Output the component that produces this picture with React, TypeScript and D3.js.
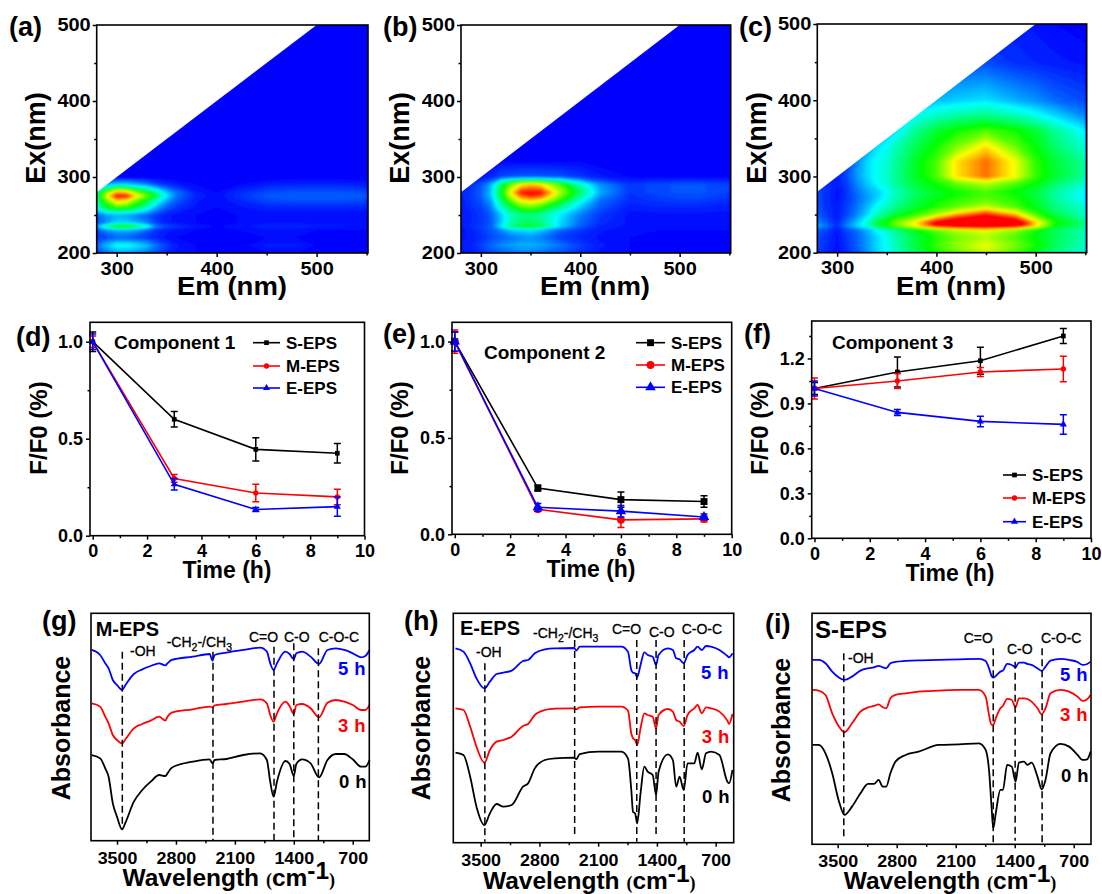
import React, { useEffect, useRef } from 'react';
import * as d3 from 'd3';

// excitation-emission maps, values in percent of colour range
const emGrid = [280, 290, 300, 310, 320, 330, 340, 350, 360, 380, 400, 420, 450, 480, 500, 520, 550];
const exGrid = [200, 210, 220, 230, 235, 240, 250, 260, 270, 275, 280, 290, 300, 320, 340, 360, 380, 400, 450, 500];
const maskEm = [280, 500, 280];
const maskEx = [280, 500, 500];

const eemA = [
  [8, 12, 16, 16, 14, 12, 8, 4, 2, 1, 0, 0, 1, 1, 0, 0, 0],
  [12, 20, 27, 27, 24, 20, 12, 7, 3, 1, 0, 0, 3, 3, 1, 0, 0],
  [6, 8, 10, 10, 8, 6, 4, 2, 1, 0, 0, 0, 1, 1, 0, 0, 0],
  [8, 14, 18, 18, 15, 10, 5, 3, 2, 1, 0, 1, 2, 2, 1, 1, 1],
  [18, 38, 52, 54, 44, 30, 14, 8, 6, 3, 1, 2, 4, 4, 3, 3, 2],
  [8, 15, 22, 22, 18, 13, 6, 3, 2, 1, 0, 1, 2, 2, 2, 2, 1],
  [10, 16, 18, 16, 13, 10, 6, 3, 2, 1, 0, 1, 1, 1, 1, 1, 1],
  [30, 48, 56, 54, 45, 32, 18, 10, 6, 2, 1, 2, 4, 4, 4, 4, 4],
  [35, 62, 85, 80, 62, 48, 32, 18, 10, 3, 1, 4, 8, 9, 9, 9, 8],
  [40, 75, 100, 100, 78, 62, 45, 25, 12, 4, 1, 5, 9, 10, 10, 10, 9],
  [35, 62, 85, 80, 62, 50, 35, 20, 12, 3, 1, 4, 8, 9, 9, 9, 8],
  [10, 18, 22, 22, 18, 14, 8, 5, 3, 1, 0, 1, 3, 4, 4, 4, 3],
  [0, 0, 0, 0, 0, 0, 0, 0, 0, 0, 0, 0, 0, 0, 0, 0, 0],
  [0, 0, 0, 0, 0, 0, 0, 0, 0, 0, 0, 0, 0, 0, 0, 0, 0],
  [0, 0, 0, 0, 0, 0, 0, 0, 0, 0, 0, 0, 0, 0, 0, 0, 0],
  [0, 0, 0, 0, 0, 0, 0, 0, 0, 0, 0, 0, 0, 0, 0, 0, 0],
  [0, 0, 0, 0, 0, 0, 0, 0, 0, 0, 0, 0, 0, 0, 0, 0, 0],
  [0, 0, 0, 0, 0, 0, 0, 0, 0, 0, 0, 0, 0, 0, 0, 0, 0],
  [0, 0, 0, 0, 0, 0, 0, 0, 0, 0, 0, 0, 0, 0, 0, 0, 0],
  [0, 0, 0, 0, 0, 0, 0, 0, 0, 0, 0, 0, 0, 0, 0, 0, 0],
];

const eemB = [
  [2, 3, 5, 8, 10, 12, 13, 13, 12, 9, 5, 2, 1, 0, 0, 0, 0],
  [3, 4, 7, 11, 14, 16, 18, 18, 17, 12, 7, 3, 1, 0, 0, 0, 0],
  [2, 3, 5, 8, 10, 12, 14, 15, 13, 7, 4, 2, 1, 0, 0, 0, 0],
  [2, 3, 6, 9, 14, 20, 22, 23, 20, 10, 6, 3, 1, 1, 1, 1, 1],
  [3, 5, 7, 10, 24, 38, 46, 48, 43, 22, 10, 4, 2, 2, 2, 2, 2],
  [3, 4, 6, 9, 20, 33, 40, 42, 38, 22, 11, 5, 2, 2, 2, 2, 2],
  [3, 4, 6, 10, 20, 32, 37, 38, 36, 24, 13, 6, 2, 2, 2, 2, 2],
  [3, 5, 7, 13, 30, 44, 56, 60, 54, 36, 20, 9, 3, 4, 4, 4, 3],
  [3, 6, 9, 17, 40, 62, 78, 82, 78, 55, 30, 12, 5, 6, 7, 7, 5],
  [4, 6, 10, 20, 44, 70, 90, 98, 94, 62, 36, 15, 5, 7, 8, 8, 6],
  [4, 6, 10, 20, 46, 76, 98, 100, 100, 68, 42, 18, 6, 8, 9, 9, 7],
  [3, 5, 9, 18, 42, 62, 76, 82, 78, 58, 32, 15, 6, 8, 9, 9, 7],
  [0, 1, 2, 4, 8, 9, 10, 10, 10, 9, 6, 3, 1, 1, 1, 1, 1],
  [0, 0, 0, 1, 1, 1, 1, 1, 1, 1, 1, 0, 0, 0, 0, 0, 0],
  [0, 0, 0, 0, 0, 0, 0, 0, 0, 0, 0, 0, 0, 0, 0, 0, 0],
  [0, 0, 0, 0, 0, 0, 0, 0, 0, 0, 0, 0, 0, 0, 0, 0, 0],
  [0, 0, 0, 0, 0, 0, 0, 0, 0, 0, 0, 0, 0, 0, 0, 0, 0],
  [0, 0, 0, 0, 0, 0, 0, 0, 0, 0, 0, 0, 0, 0, 0, 0, 0],
  [0, 0, 0, 0, 0, 0, 0, 0, 0, 0, 0, 0, 0, 0, 0, 0, 0],
  [0, 0, 0, 0, 0, 0, 0, 0, 0, 0, 0, 0, 0, 0, 0, 0, 0],
];

const eemC = [
  [7, 4, 1, 5, 9, 15, 22, 26, 32, 42, 52, 60, 70, 58, 48, 38, 30],
  [8, 5, 2, 6, 10, 16, 22, 27, 34, 46, 56, 65, 74, 62, 52, 42, 32],
  [8, 5, 2, 6, 10, 16, 22, 27, 34, 45, 54, 62, 68, 58, 50, 42, 33],
  [10, 7, 3, 8, 12, 18, 26, 32, 38, 50, 60, 68, 74, 64, 52, 42, 34],
  [18, 12, 5, 14, 22, 30, 44, 52, 60, 76, 100, 115, 120, 110, 78, 50, 38],
  [14, 9, 4, 12, 20, 30, 44, 52, 62, 78, 105, 120, 125, 115, 80, 52, 38],
  [10, 6, 3, 8, 14, 22, 32, 40, 46, 56, 68, 84, 100, 82, 58, 44, 32],
  [9, 5, 3, 7, 12, 19, 27, 32, 38, 46, 54, 60, 70, 58, 48, 38, 30],
  [8, 5, 2, 6, 11, 16, 22, 28, 34, 44, 50, 55, 60, 54, 46, 36, 26],
  [8, 5, 2, 6, 11, 16, 21, 27, 33, 42, 48, 52, 58, 52, 45, 35, 25],
  [8, 5, 2, 6, 12, 17, 21, 26, 33, 42, 48, 52, 58, 50, 45, 35, 26],
  [7, 5, 3, 7, 14, 20, 26, 30, 36, 46, 52, 60, 68, 58, 50, 40, 30],
  [3, 4, 3, 8, 16, 22, 27, 31, 37, 48, 58, 78, 90, 74, 56, 46, 36],
  [3, 3, 3, 8, 14, 22, 27, 30, 36, 48, 58, 78, 90, 74, 55, 45, 36],
  [3, 3, 3, 6, 10, 14, 22, 27, 33, 43, 52, 62, 78, 60, 50, 40, 30],
  [3, 3, 3, 5, 8, 12, 14, 18, 24, 37, 46, 52, 58, 52, 46, 36, 25],
  [3, 3, 3, 4, 6, 8, 10, 13, 17, 27, 32, 35, 38, 33, 28, 22, 14],
  [3, 3, 3, 3, 4, 6, 8, 10, 12, 15, 19, 21, 23, 18, 15, 11, 8],
  [3, 3, 3, 3, 3, 3, 3, 4, 5, 6, 7, 8, 8, 5, 4, 3, 2],
  [3, 3, 3, 3, 3, 3, 3, 3, 3, 3, 3, 3, 3, 3, 2, 1, 0],
];

// quenching kinetics
const times = [0, 3, 6, 9];
const seriesNames = ['S-EPS', 'M-EPS', 'E-EPS'];

const compS1 = [1, 0.6, 0.445, 0.425];
const compS1Err = [0.05, 0.04, 0.06, 0.05];
const compM1 = [1, 0.295, 0.22, 0.2];
const compM1Err = [0.03, 0.02, 0.045, 0.04];
const compE1 = [1, 0.265, 0.135, 0.15];
const compE1Err = [0.04, 0.03, 0.01, 0.05];

const compS2 = [1, 0.24, 0.18, 0.17];
const compS2Err = [0.05, 0.015, 0.04, 0.03];
const compM2 = [1, 0.13, 0.075, 0.08];
const compM2Err = [0.06, 0.01, 0.04, 0.015];
const compE2 = [1, 0.14, 0.12, 0.09];
const compE2Err = [0.05, 0.02, 0.03, 0.015];

const compS3 = [1, 1.11, 1.185, 1.35];
const compS3Err = [0.04, 0.1, 0.09, 0.05];
const compM3 = [1, 1.05, 1.11, 1.13];
const compM3Err = [0.07, 0.05, 0.03, 0.085];
const compE3 = [1, 0.84, 0.78, 0.76];
const compE3Err = [0.05, 0.02, 0.035, 0.065];

// FTIR spectra, absorbance in arbitrary units
const wnG = [3800, 3700, 3640, 3600, 3550, 3500, 3440, 3400, 3300, 3200, 3100, 3000, 2925, 2900, 2850, 2600, 2400, 2365, 2340, 2200, 2000, 1800, 1720, 1680, 1640, 1600, 1500, 1450, 1400, 1370, 1300, 1200, 1100, 1000, 900, 800, 700, 600, 550, 500];
const g0h = [257, 247, 217, 192, 112, 72, 34, 54, 117, 152, 177, 197, 194, 202, 219, 237, 244, 232, 242, 245, 257, 262, 242, 177, 132, 177, 239, 230, 194, 230, 244, 232, 190, 242, 260, 260, 244, 222, 222, 242];
const g3h = [412, 402, 372, 352, 317, 302, 292, 304, 337, 350, 360, 372, 360, 372, 384, 394, 402, 400, 406, 410, 417, 424, 412, 377, 357, 382, 417, 404, 380, 407, 410, 397, 370, 414, 422, 417, 407, 392, 392, 407];
const g5h = [572, 557, 532, 517, 482, 467, 452, 467, 500, 514, 524, 532, 526, 532, 542, 552, 560, 540, 557, 564, 572, 579, 567, 532, 512, 532, 567, 560, 544, 562, 567, 552, 530, 572, 577, 572, 562, 550, 554, 572];
const dashWnG = [3437, 2360, 1635, 1400, 1108];
const dashTopG = [567, 567, 582, 592, 577];
const dashBottomG = [32, 0, 0, 0, 0];

const wnH = [3800, 3705, 3625, 3550, 3455, 3390, 3310, 3230, 3130, 2995, 2935, 2855, 2735, 2615, 2385, 2360, 2320, 2100, 1825, 1745, 1705, 1685, 1660, 1635, 1595, 1550, 1510, 1450, 1410, 1380, 1270, 1210, 1170, 1130, 1080, 1035, 955, 915, 865, 815, 755, 655, 560, 540, 500];
const h0h = [270, 263, 198, 108, 53, 88, 116, 108, 113, 168, 178, 223, 248, 253, 255, 250, 266, 273, 273, 253, 158, 93, 88, 58, 148, 228, 213, 203, 143, 213, 265, 248, 168, 198, 158, 238, 238, 270, 220, 268, 273, 263, 183, 178, 218];
const h3h = [403, 398, 348, 288, 240, 278, 303, 308, 318, 350, 356, 383, 398, 402, 403, 400, 406, 408, 408, 396, 328, 313, 308, 293, 343, 388, 383, 378, 343, 383, 401, 393, 368, 363, 350, 383, 403, 413, 388, 406, 403, 393, 366, 356, 386];
const h5h = [583, 573, 538, 493, 463, 483, 506, 510, 516, 545, 548, 568, 580, 583, 584, 576, 588, 588, 588, 573, 518, 510, 508, 496, 533, 571, 563, 558, 533, 563, 583, 578, 553, 550, 538, 563, 578, 588, 578, 590, 588, 578, 560, 556, 568];
const dashWnH = [3450, 2380, 1640, 1410, 1075];
const dashTopH = [538, 608, 608, 608, 608];
const dashBottomH = [3, 18, 3, 18, 3];

const wnI = [3800, 3725, 3645, 3565, 3490, 3420, 3330, 3230, 3140, 3070, 3015, 2965, 2925, 2875, 2815, 2695, 2540, 2300, 2060, 1825, 1745, 1705, 1675, 1655, 1625, 1570, 1540, 1490, 1435, 1390, 1350, 1290, 1250, 1200, 1130, 1080, 1035, 975, 855, 755, 655, 595, 540, 500];
const i0h = [298, 298, 273, 213, 133, 88, 113, 153, 181, 181, 193, 173, 173, 213, 248, 268, 278, 298, 300, 303, 283, 223, 113, 48, 93, 163, 163, 238, 233, 188, 245, 248, 238, 245, 203, 165, 193, 273, 301, 293, 268, 253, 255, 278];
const i3h = [463, 461, 448, 393, 355, 336, 363, 398, 411, 415, 420, 411, 408, 438, 448, 453, 458, 461, 463, 463, 443, 388, 358, 358, 378, 408, 415, 436, 433, 411, 438, 438, 436, 428, 408, 390, 408, 453, 463, 458, 443, 430, 435, 448];
const i5h = [553, 553, 543, 518, 501, 493, 503, 521, 528, 531, 535, 531, 528, 543, 547, 550, 552, 553, 555, 556, 550, 528, 505, 500, 505, 518, 521, 541, 538, 531, 545, 545, 541, 538, 528, 520, 533, 551, 556, 553, 547, 538, 541, 548];
const dashWnI = [3428, 1655, 1395, 1075];
const dashTopI = [573, 588, 548, 588];
const dashBottomI = [23, 0, 11, 0];

const FONT = '"Liberation Sans", Arial, sans-serif';
const SERIES_COLORS = ['#000000', '#ff0000', '#0000ff'];

const rainbow = d3
  .scaleLinear<string>()
  .domain([0, 25, 50, 75, 100])
  .range(['#0000ff', '#00ffff', '#00ff00', '#ffff00', '#ff0000'])
  .clamp(true);

const addText = (g: any, x: number, y: number, str: string, size: number, opts: any = {}) =>
  g
    .append('text')
    .attr('x', x)
    .attr('y', y)
    .attr('font-family', FONT)
    .attr('font-weight', opts.weight || 'bold')
    .attr('font-size', size)
    .attr('fill', opts.fill || '#000')
    .attr('text-anchor', opts.anchor || 'start')
    .text(str);

const addYLabel = (g: any, x: number, y: number, str: string, size: number) =>
  addText(g, 0, 0, str, size, { anchor: 'middle' }).attr('transform', `translate(${x},${y}) rotate(-90)`);

// draws ticks with d3 axes; minor ones have no label
// the source picture is a bit wider than tall, hence the stretch on the labels
const drawAxes = (svg: any, box: any, x: any, y: any, xt: any, yt: any, fmtX: any, fmtY: any) => {
  const styleAxis = (sel: any, size: number, stretch: number, isY: boolean) => {
    sel.select('.domain').remove();
    sel.selectAll('line').attr('stroke', '#000').attr('stroke-width', 1.5);
    sel
      .selectAll('text')
      .attr('font-family', FONT)
      .attr('font-weight', 'bold')
      .attr('font-size', size)
      .attr('fill', '#000')
      .attr('transform', function (this: any) {
        if (!isY) return `scale(${stretch},1)`;
        const tx = +this.getAttribute('x');
        return `translate(${tx},0) scale(${stretch},1) translate(${-tx},0)`;
      });
  };
  svg
    .append('g')
    .attr('transform', `translate(0,${box.bottom})`)
    .call(d3.axisBottom(x).tickValues(xt.major).tickFormat(fmtX).tickSize(4).tickSizeOuter(0).tickPadding(xt.pad))
    .call((s: any) => styleAxis(s, xt.size, xt.stretch || 1, false));
  svg
    .append('g')
    .attr('transform', `translate(0,${box.bottom})`)
    .call(d3.axisBottom(x).tickValues(xt.minor).tickFormat(() => '').tickSize(2.5).tickSizeOuter(0))
    .call((s: any) => styleAxis(s, xt.size, 1, false));
  if (yt) {
    svg
      .append('g')
      .attr('transform', `translate(${box.left},0)`)
      .call(d3.axisLeft(y).tickValues(yt.major).tickFormat(fmtY).tickSize(4).tickSizeOuter(0).tickPadding(yt.pad))
      .call((s: any) => styleAxis(s, yt.size, yt.stretch || 1, true));
    svg
      .append('g')
      .attr('transform', `translate(${box.left},0)`)
      .call(d3.axisLeft(y).tickValues(yt.minor).tickFormat(() => '').tickSize(2.5).tickSizeOuter(0))
      .call((s: any) => styleAxis(s, yt.size, 1, true));
  }
};

const drawFrame = (svg: any, box: any) =>
  svg
    .append('rect')
    .attr('x', box.left)
    .attr('y', box.top)
    .attr('width', box.right - box.left)
    .attr('height', box.bottom - box.top)
    .attr('fill', 'none')
    .attr('stroke', '#000')
    .attr('stroke-width', 1.6);

const drawEEM = (svg: any, id: string, grid: number[][], box: any, o: any) => {
  const x = d3.scaleLinear().domain([280, 550]).range([box.left, box.left + 270 * (box.right - box.left) / 271.4]);
  const y = d3.scaleLinear().domain([200, 500]).range([box.bottom, box.top]);
  const xIdx = d3.scaleLinear().domain(d3.range(emGrid.length)).range(emGrid).clamp(true);
  const yIdx = d3.scaleLinear().domain(d3.range(exGrid.length)).range(exGrid).clamp(true);

  const clip = `clip-${id}`;
  svg
    .append('clipPath')
    .attr('id', clip)
    .append('rect')
    .attr('x', box.left)
    .attr('y', box.top)
    .attr('width', box.right - box.left)
    .attr('height', box.bottom - box.top);

  const root = svg.append('g').attr('clip-path', `url(#${clip})`);
  root
    .append('rect')
    .attr('x', box.left)
    .attr('y', box.top)
    .attr('width', box.right - box.left)
    .attr('height', box.bottom - box.top)
    .attr('fill', rainbow(0));

  const plot = root.append('g').attr('filter', 'url(#soft)');
  const contours = d3
    .contours()
    .size([emGrid.length, exGrid.length])
    .thresholds(d3.range(1, 100.5, 1.5));
  const project = d3.geoTransform({
    point(px: number, py: number) {
      (this as any).stream.point(x(xIdx(px - 0.5)), y(yIdx(py - 0.5)));
    },
  });
  const path = d3.geoPath(project);
  plot
    .selectAll('path')
    .data(contours(grid.flat()))
    .enter()
    .append('path')
    .attr('d', (d: any) => path(d))
    .attr('fill', (d: any) => rainbow(d.value));

  const maskLine = d3.line<number>().x((d) => x(maskEm[d])).y((d) => y(maskEx[d]));
  root
    .append('path')
    .attr('d', maskLine(d3.range(maskEm.length)) + 'Z')
    .attr('fill', '#fff');

  drawAxes(
    svg,
    box,
    x,
    y,
    { major: [300, 400, 500], minor: [350, 450, 550], pad: 5, size: 18, stretch: 1.11 },
    { major: [200, 300, 400, 500], minor: [250, 350, 450], pad: 2, size: 18, stretch: 1.11 },
    d3.format('d'),
    d3.format('d'),
  );
  drawFrame(svg, box);

  addText(svg, o.letterX, 36, o.letter, 27);
  addText(svg, 0, 0, 'Em (nm)', 25.5, { anchor: 'middle' }).attr('transform', `translate(${o.emX},295) scale(1.08,1)`);
  addYLabel(svg, o.exX, 138, 'Ex(nm)', 27);
};

const drawKinetics = (svg: any, box: any, o: any) => {
  const x = d3.scaleLinear().domain([-0.1, 10]).range([box.left, box.right]);
  const y = d3.scaleLinear().domain([0, o.yMax]).range([box.bottom, box.top]);
  const line = d3.line<number>().x((_, i) => x(times[i])).y((d) => y(d));
  const shapes = [d3.symbolSquare, d3.symbolCircle, d3.symbolTriangle];

  o.series.forEach((vals: number[], s: number) => {
    const color = SERIES_COLORS[s];
    const g = svg.append('g');
    g.append('path').attr('d', line(vals)).attr('fill', 'none').attr('stroke', color).attr('stroke-width', 1.6);
    vals.forEach((v, i) => {
      const e = o.errors[s][i];
      const cx = x(times[i]);
      g.append('path')
        .attr('d', `M${cx},${y(v - e)}V${y(v + e)}M${cx - 3.5},${y(v - e)}h7M${cx - 3.5},${y(v + e)}h7`)
        .attr('fill', 'none')
        .attr('stroke', color)
        .attr('stroke-width', 1.5);
      g.append('path')
        .attr('d', d3.symbol().type(shapes[s]).size(o.markerSize)())
        .attr('transform', `translate(${cx},${y(v)})`)
        .attr('fill', color);
    });
  });

  drawAxes(
    svg,
    box,
    x,
    y,
    { major: [0, 2, 4, 6, 8, 10], minor: [1, 3, 5, 7, 9], pad: o.padX, size: 18 },
    { major: o.yMajor, minor: o.yMinor, pad: 3, size: 18 },
    d3.format('d'),
    d3.format('.1f'),
  );
  drawFrame(svg, box);

  o.legendY.forEach((ly: number, s: number) => {
    const color = SERIES_COLORS[s];
    svg
      .append('line')
      .attr('x1', o.legendX)
      .attr('x2', o.legendX + o.legendW)
      .attr('y1', ly)
      .attr('y2', ly)
      .attr('stroke', color)
      .attr('stroke-width', 1.6);
    svg
      .append('path')
      .attr('d', d3.symbol().type(shapes[s]).size(o.markerSize)())
      .attr('transform', `translate(${o.legendX + o.legendW / 2},${ly})`)
      .attr('fill', color);
    addText(svg, o.legendX + o.legendW + 6, ly + 6, seriesNames[s], 17);
  });

  addText(svg, o.compX, o.compY, o.comp, 19);
  addText(svg, o.letterX, o.letterY, o.letter, 27);
  addText(svg, o.timeX, o.timeY, 'Time (h)', 23, { anchor: 'middle' });
  addYLabel(svg, o.yLabelX, o.yLabelY, 'F/F0 (%)', 24);
};

const addChem = (svg: any, px: number, py: number, parts: any[], size: number) => {
  const t = addText(svg, px, py, '', size, { weight: 'normal' }).attr('stroke', '#000').attr('stroke-width', 0.3);
  let base = 0;
  parts.forEach(([str, sub]) => {
    const shift = sub ? 4 : 0;
    t.append('tspan')
      .attr('dy', shift - base)
      .attr('font-size', sub ? size * 0.75 : size)
      .text(str);
    base = shift;
  });
};

const drawSpectra = (svg: any, box: any, o: any) => {
  const x = d3.scaleLinear().domain(o.wnDomain).range([box.left, box.right]);
  const y = d3.scaleLinear().domain([0, o.yMax]).range([box.bottom, box.top]);
  const line = d3.line<number>().x((_, i) => x(o.wn[i])).y((d) => y(d)).curve(d3.curveMonotoneX);

  o.curves.forEach((vals: number[], k: number) => {
    svg
      .append('path')
      .attr('d', line(vals))
      .attr('fill', 'none')
      .attr('stroke', SERIES_COLORS[k])
      .attr('stroke-width', 1.8);
  });

  o.dashWn.forEach((w: number, i: number) => {
    svg
      .append('line')
      .attr('x1', x(w))
      .attr('x2', x(w))
      .attr('y1', y(o.dashTop[i]))
      .attr('y2', y(o.dashBottom[i]))
      .attr('stroke', '#000')
      .attr('stroke-width', 1.5)
      .attr('stroke-dasharray', '7,4');
  });

  drawAxes(
    svg,
    box,
    x,
    y,
    { major: [3500, 2800, 2100, 1400, 700], minor: [3150, 2450, 1750, 1050], pad: o.padX, size: 17, stretch: 1.05 },
    null,
    d3.format('d'),
    null,
  );
  drawFrame(svg, box);

  addText(svg, o.letterX, o.letterY, o.letter, 27);
  addText(svg, o.nameX, o.nameY, o.name, o.nameSize);
  o.notes.forEach(([nx, ny, str]: any) => addText(svg, nx, ny, str, 14, { weight: 'normal' }).attr('stroke', '#000').attr('stroke-width', 0.3));
  if (o.chem) addChem(svg, o.chem[0], o.chem[1], [['-CH', 0], ['2', 1], ['-/CH', 0], ['3', 1]], 14);
  ['0 h', '3 h', '5 h'].forEach((str, k) => {
    const [hx, hy] = o.hours[k];
    addText(svg, hx, hy, str, 18.5, { fill: SERIES_COLORS[k] }).attr('letter-spacing', 0.4);
  });
  addYLabel(svg, o.yLabelX, o.yLabelY, 'Absorbance', 25);

  const t = addText(svg, o.xLabelX, o.xLabelY, 'Wavelength ', 24.5);
  t.append('tspan').attr('font-family', '"Liberation Serif", serif').attr('font-size', 18).text('(');
  t.append('tspan').text('cm');
  t.append('tspan').attr('dy', -7).text('-1');
  t.append('tspan').attr('dy', 7).attr('font-family', '"Liberation Serif", serif').attr('font-size', 18).text(')');
};

const App = () => {
  const svgRef = useRef<SVGSVGElement>(null);

  useEffect(() => {
    const svg = d3.select(svgRef.current);
    svg.selectAll('*').remove();

    svg
      .append('filter')
      .attr('id', 'soft')
      .attr('x', 0)
      .attr('y', 0)
      .attr('width', 1)
      .attr('height', 1)
      .append('feGaussianBlur')
      .attr('stdDeviation', 0.8);

    drawEEM(svg, 'a', eemA, { left: 96.7, right: 368, top: 25, bottom: 253 }, { letter: '(a)', letterX: 9, emX: 232, exX: 45 });
    drawEEM(svg, 'b', eemB, { left: 461, right: 730.7, top: 25, bottom: 253 }, { letter: '(b)', letterX: 383, emX: 595, exX: 409 });
    drawEEM(svg, 'c', eemC, { left: 817.3, right: 1086.7, top: 24, bottom: 252.7 }, { letter: '(c)', letterX: 739, emX: 951, exX: 766 });

    drawKinetics(svg, { left: 90, right: 364.5, top: 322.3, bottom: 535.7 }, {
      series: [compS1, compM1, compE1],
      errors: [compS1Err, compM1Err, compE1Err],
      yMax: 1.1, yMajor: [0, 0.5, 1], yMinor: [0.25, 0.75], markerSize: 22, padX: 5,
      legendX: 253, legendW: 27, legendY: [342.7, 366, 388],
      comp: 'Component 1', compX: 114, compY: 349,
      letter: '(d)', letterX: 16, letterY: 346,
      timeX: 227, timeY: 578, yLabelX: 47, yLabelY: 428,
    });
    drawKinetics(svg, { left: 452, right: 731.7, top: 322.3, bottom: 534.3 }, {
      series: [compS2, compM2, compE2],
      errors: [compS2Err, compM2Err, compE2Err],
      yMax: 1.1, yMajor: [0, 0.5, 1], yMinor: [0.25, 0.75], markerSize: 48, padX: 5,
      legendX: 636, legendW: 29, legendY: [342.7, 365, 387.3],
      comp: 'Component 2', compX: 484, compY: 359,
      letter: '(e)', letterX: 383, letterY: 343,
      timeX: 591, timeY: 577, yLabelX: 408, yLabelY: 428,
    });
    drawKinetics(svg, { left: 811.7, right: 1091, top: 321, bottom: 538.3 }, {
      series: [compS3, compM3, compE3],
      errors: [compS3Err, compM3Err, compE3Err],
      yMax: 1.45, yMajor: [0, 0.3, 0.6, 0.9, 1.2], yMinor: [0.15, 0.45, 0.75, 1.05, 1.35], markerSize: 22, padX: 5,
      legendX: 1003, legendW: 23, legendY: [475, 498, 521.7],
      comp: 'Component 3', compX: 832, compY: 349,
      letter: '(f)', letterX: 744, letterY: 343,
      timeX: 950, timeY: 581, yLabelX: 768, yLabelY: 428,
    });

    drawSpectra(svg, { left: 91, right: 369.3, top: 613.3, bottom: 840.7 }, {
      wnDomain: [3809, 503], yMax: 682, wn: wnG, curves: [g0h, g3h, g5h],
      dashWn: dashWnG, dashTop: dashTopG, dashBottom: dashBottomG, padX: 7,
      letter: '(g)', letterX: 42, letterY: 630,
      name: 'M-EPS', nameX: 95.7, nameY: 636, nameSize: 20,
      notes: [[130, 656, '-OH'], [249, 641.7, 'C=O'], [284, 641.7, 'C-O'], [318.7, 641.7, 'C-O-C']],
      chem: [166.7, 646.7],
      hours: [[339, 788], [338, 731.7], [338, 675]],
      yLabelX: 70, yLabelY: 728, xLabelX: 122.5, xLabelY: 886,
    });
    drawSpectra(svg, { left: 453.3, right: 733.7, top: 613.3, bottom: 842.7 }, {
      wnDomain: [3826, 485], yMax: 688, wn: wnH, curves: [h0h, h3h, h5h],
      dashWn: dashWnH, dashTop: dashTopH, dashBottom: dashBottomH, padX: 7,
      letter: '(h)', letterX: 404, letterY: 630,
      name: 'E-EPS', nameX: 460, nameY: 635, nameSize: 20,
      notes: [[476, 657, '-OH'], [612, 634, 'C=O'], [649, 637, 'C-O'], [681.7, 634, 'C-O-C']],
      chem: [533, 638],
      hours: [[702, 803], [701.7, 742.7], [701, 679]],
      yLabelX: 430, yLabelY: 728, xLabelX: 483, xLabelY: 888.5,
    });
    drawSpectra(svg, { left: 812, right: 1091, top: 613.3, bottom: 844.3 }, {
      wnDomain: [3805, 495], yMax: 693, wn: wnI, curves: [i0h, i3h, i5h],
      dashWn: dashWnI, dashTop: dashTopI, dashBottom: dashBottomI, padX: 7,
      letter: '(i)', letterX: 765, letterY: 633,
      name: 'S-EPS', nameX: 815, nameY: 638, nameSize: 24,
      notes: [[848, 663, '-OH'], [963.7, 643, 'C=O'], [1007, 654, 'C-O'], [1041, 643, 'C-O-C']],
      chem: null,
      hours: [[1061, 781.7], [1060, 720.7], [1060, 681]],
      yLabelX: 790, yLabelY: 730, xLabelX: 843.7, xLabelY: 888.5,
    });
  }, []);

  return (
    <svg
      ref={svgRef}
      width={1102}
      height={894}
      style={{ position: 'absolute', left: 0, top: 0, display: 'block', background: '#fff' }}
    />
  );
};

export default App;
